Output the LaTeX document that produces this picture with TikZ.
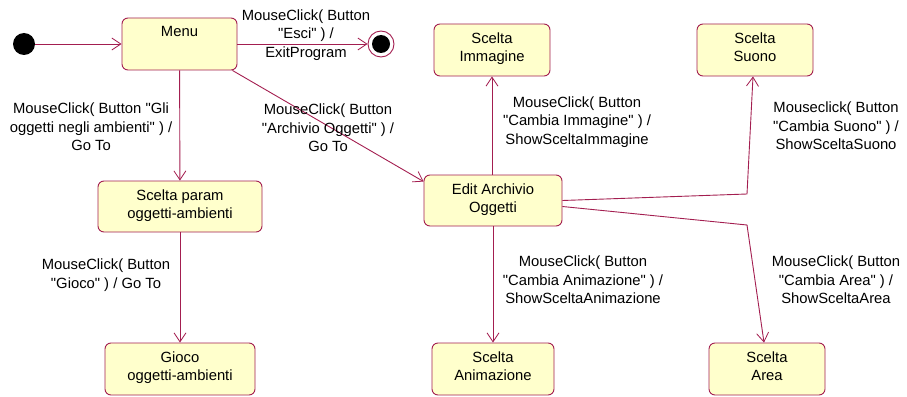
\documentclass[tikz,border=0pt]{standalone}
\usepackage{fontspec}
\setmainfont{Liberation Sans}[Ligatures=TeXOff]
\usetikzlibrary{arrows.meta}
\definecolor{bord}{RGB}{163,30,80}
\definecolor{fillc}{RGB}{255,255,204}
\begin{document}
\begin{tikzpicture}[x=1pt,y=-1pt,
  every node/.style={font=\fontsize{14.8}{18.5}\selectfont},
  state/.style={draw=bord, fill=fillc, rounded corners=6pt, inner sep=0pt, line width=0.9pt},
  stxt/.style={anchor=north, align=center, inner xsep=7pt, inner ysep=9pt, fill=none, draw=none},
  elbl/.style={align=center, inner sep=0pt},
  conn/.style={draw=bord, line width=0.9pt, -{Straight Barb[length=9pt,width=12pt,line width=0.8pt]}},
]
\useasboundingbox (0,0) rectangle (907,396);

% initial and final
\node[circle, fill=black, minimum size=22pt, inner sep=0pt] (init) at (24,44) {};
\node[circle, draw=bord, fill=white, line width=0.9pt, minimum size=26pt, inner sep=0pt] (final) at (381,44) {};
\node[circle, fill=black, minimum size=18pt, inner sep=0pt] (finalin) at (381,44) {};

% states
\node[state, minimum width=115pt, minimum height=52pt, label={[stxt]north:Menu}] (menu) at (179.5,44) {};
\node[state, minimum width=164pt, minimum height=51pt, label={[stxt]north:Scelta param\\oggetti-ambienti}] (param) at (180,206.5) {};
\node[state, minimum width=150pt, minimum height=52pt, label={[stxt]north:Gioco\\oggetti-ambienti}] (gioco) at (180,369) {};
\node[state, minimum width=138pt, minimum height=51pt, label={[stxt]north:Edit Archivio\\Oggetti}] (edit) at (493,200.5) {};
\node[state, minimum width=116pt, minimum height=52pt, label={[stxt]north:Scelta\\Immagine}] (imm) at (492,50) {};
\node[state, minimum width=116pt, minimum height=52pt, label={[stxt]north:Scelta\\Suono}] (suono) at (755,50) {};
\node[state, minimum width=122pt, minimum height=52pt, label={[stxt]north:Scelta\\Animazione}] (anim) at (493,369) {};
\node[state, minimum width=116pt, minimum height=52pt, label={[stxt]north:Scelta\\Area}] (area) at (767,369) {};

% bend points
\coordinate (bs) at (747,194);
\coordinate (ba) at (747,225);

% connectors
\draw[conn] (init) -- (menu.west);
\draw[conn] (menu.east) -- (final);
\draw[conn] (menu) -- (param);
\draw[conn] (param) -- (gioco);
\draw[conn] ([xshift=-5pt]menu.south east) -- ([yshift=-7pt]edit.north west);
\draw[conn] (edit.north -| imm.south) -- (imm.south);
\draw[conn] (edit) -- (anim);
\draw[conn] (edit.east) -- (bs) -- ([xshift=-2pt]suono.south);
\draw[conn] ([yshift=-6pt]edit.east) -- (ba) -- ([xshift=-3pt]area.north);

% labels
\node[elbl] (l1) at (306,35) {MouseClick( Button\\"Esci" ) /\\ExitProgram};
\node[elbl] (l2) at (91,127) {MouseClick( Button "Gli\\oggetti negli ambienti" ) /\\Go To};
\node[elbl] (l3) at (328,128) {MouseClick( Button\\"Archivio Oggetti" ) /\\Go To};
\node[elbl] (l4) at (106,275) {MouseClick( Button\\"Gioco" ) / Go To};
\node[elbl] (l5) at (577,122) {MouseClick( Button\\"Cambia Immagine" ) /\\ShowSceltaImmagine};
\node[elbl] (l6) at (836,126) {Mouseclick( Button\\"Cambia Suono" ) /\\ShowSceltaSuono};
\node[elbl] (l7) at (583,280) {MouseClick( Button\\"Cambia Animazione" ) /\\ShowSceltaAnimazione};
\node[elbl] (l8) at (836,280) {MouseClick( Button\\"Cambia Area" ) /\\ShowSceltaArea};
\end{tikzpicture}
\end{document}
